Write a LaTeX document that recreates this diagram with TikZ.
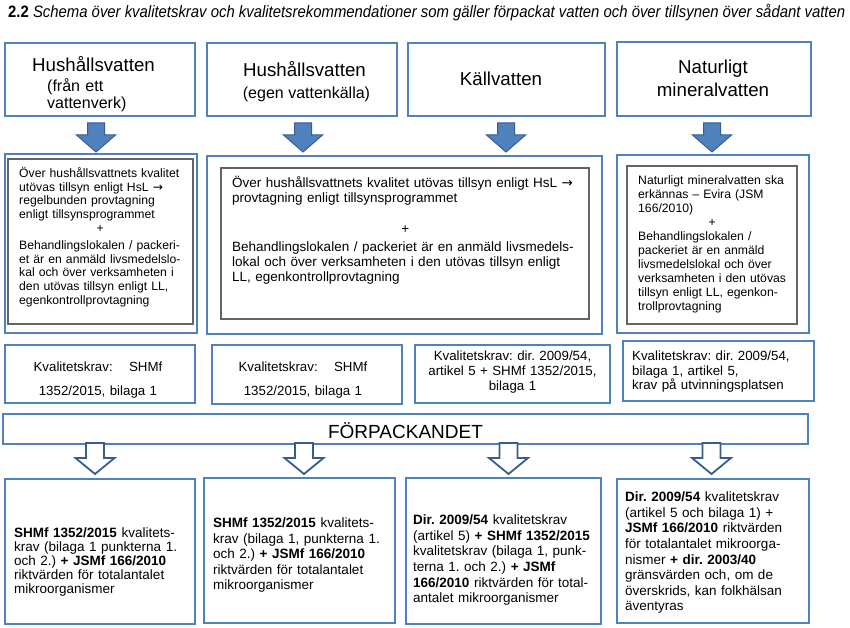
\documentclass[tikz,border=0pt]{standalone}
\usepackage{graphicx}
\usepackage{fontspec}
\setmainfont{Liberation Sans}
\newfontfamily\symfont{DejaVu Sans}
\frenchspacing
\definecolor{boxblue}{RGB}{79,129,189}
\definecolor{arrowedge}{RGB}{56,93,138}
\definecolor{innergray}{RGB}{100,100,100}
\tikzset{
  bluebox/.style={draw=boxblue, line width=1.5pt, rectangle, inner sep=0pt},
  graybox/.style={draw=innergray, line width=1.2pt, rectangle, inner sep=0pt},
  fillarrow/.style={fill=boxblue, draw=arrowedge, line width=1pt, line join=miter},
  hollowarrow/.style={fill=white, draw=arrowedge, line width=1.8pt, line join=miter},
  txt/.style={inner sep=0pt, align=left},
  ctxt/.style={inner sep=0pt, align=center},
  headfont/.style={font=\fontsize{18.7}{22}\selectfont},
  subfont/.style={font=\fontsize{16}{17}\selectfont},
}
\begin{document}
\begin{tikzpicture}[x=1pt,y=-1pt]
\useasboundingbox (0,0) rectangle (850,628);
\fill[white] (0,0) rectangle (850,628);

% title
\node[txt, anchor=base west] (title) at (8,18)
  {\resizebox{837pt}{\height}{\fontsize{16.5}{18}\selectfont\frenchspacing\textbf{2.2} \textit{Schema över kvalitetskrav och kvalitetsrekommendationer som gäller förpackat vatten och över tillsynen över sådant vatten}}};

% top row
\node[bluebox, minimum width=190pt, minimum height=73pt] (t1) at (100,79.5) {};
\node[bluebox, minimum width=190pt, minimum height=73pt] (t2) at (302,79.5) {};
\node[bluebox, minimum width=197pt, minimum height=73pt] (t3) at (506.5,79.5) {};
\node[bluebox, minimum width=194pt, minimum height=74pt] (t4) at (714,79) {};

\node[txt, headfont, anchor=base west] (t1a) at (32,71.5) {Hushållsvatten};
\node[txt, subfont, anchor=base west, text width=120pt] (t1b) at (47,91.5) {(från ett\\vattenverk)};
\node[ctxt, headfont, anchor=base] (t2a) at (304.5,76.5) {Hushållsvatten};
\node[ctxt, subfont, anchor=base] (t2b) at (306.5,98.5) {(egen vattenkälla)};
\node[ctxt, headfont, anchor=base] (t3a) at (501,85.5) {Källvatten};
\node[ctxt, font=\fontsize{18.7}{23}\selectfont, anchor=base, text width=170pt] (t4a) at (713,73.5) {Naturligt\\mineralvatten};

% filled arrows
\foreach \cx in {96,303,506,712}{
  \draw[fillarrow] (\cx-8.5,123) -- (\cx+8.5,123) -- (\cx+8.5,135) -- (\cx+19.5,135)
    -- (\cx,152) -- (\cx-19.5,135) -- (\cx-8.5,135) -- cycle;
}

% middle row
\node[bluebox, minimum width=192pt, minimum height=179pt] (m1o) at (101,243.5) {};
\node[graybox, minimum width=185pt, minimum height=165pt] (m1i) at (100.5,241.5) {};
\node[bluebox, minimum width=395pt, minimum height=178pt] (m2o) at (404.5,245) {};
\node[graybox, minimum width=368pt, minimum height=151pt] (m2i) at (405,243.5) {};
\node[bluebox, minimum width=192pt, minimum height=178pt] (m4o) at (713,244) {};
\node[graybox, minimum width=170pt, minimum height=158pt] (m4i) at (712,245) {};

\node[txt, anchor=base west, text width=175pt, font=\fontsize{12.2}{13.8}\selectfont] (m1t) at (19,177.3)
  {Över hushållsvattnets kvalitet\\
   utövas tillsyn enligt HsL {\symfont →}\\
   regelbunden provtagning\\
   enligt tillsynsprogrammet\\
   \makebox[162pt]{+}\\[3pt]
   Behandlingslokalen / packeri-\\
   et är en anmäld livsmedelslo-\\
   kal och över verksamheten i\\
   den utövas tillsyn enligt LL,\\
   egenkontrollprovtagning};

\node[txt, anchor=base west, text width=360pt, font=\fontsize{13.5}{15}\selectfont] (m2t) at (232,187.7)
  {Över hushållsvattnets kvalitet utövas tillsyn enligt HsL {\symfont →}\\
   provtagning enligt tillsynsprogrammet\\[16pt]
   \makebox[346pt]{+}\\[3pt]
   Behandlingslokalen / packeriet är en anmäld livsmedels-\\
   lokal och över verksamheten i den utövas tillsyn enligt\\
   LL, egenkontrollprovtagning};

\node[txt, anchor=base west, text width=170pt, font=\fontsize{12.2}{14}\selectfont] (m4t) at (638,184.3)
  {Naturligt mineralvatten ska\\
   erkännas – Evira (JSM\\
   166/2010)\\
   \makebox[148pt]{+}\\
   Behandlingslokalen /\\
   packeriet är en anmäld\\
   livsmedelslokal och över\\
   verksamheten i den utövas\\
   tillsyn enligt LL, egenkon-\\
   trollprovtagning};

% quality requirement row
\node[bluebox, minimum width=190pt, minimum height=58pt] (k1) at (100,374) {};
\node[bluebox, minimum width=190pt, minimum height=59pt] (k2) at (307,374.5) {};
\node[bluebox, minimum width=195pt, minimum height=58pt] (k3) at (512.5,374) {};
\node[bluebox, minimum width=191pt, minimum height=60pt] (k4) at (718.5,371) {};

\node[ctxt, anchor=base, text width=185pt, font=\fontsize{13.3}{24}\selectfont] (k1t) at (98,371.7)
  {Kvalitetskrav:\hspace{12pt} SHMf\\1352/2015, bilaga 1};
\node[ctxt, anchor=base, text width=185pt, font=\fontsize{13.3}{24}\selectfont] (k2t) at (303,371.7)
  {Kvalitetskrav:\hspace{12pt} SHMf\\1352/2015, bilaga 1};
\node[ctxt, anchor=base, text width=190pt, font=\fontsize{13.3}{15}\selectfont] (k3t) at (512.5,360.5)
  {Kvalitetskrav: dir. 2009/54,\\artikel 5 + SHMf 1352/2015,\\bilaga 1};
\node[txt, anchor=base west, text width=180pt, font=\fontsize{13.3}{14.7}\selectfont] (k4t) at (632,360.5)
  {Kvalitetskrav: dir. 2009/54,\\bilaga 1, artikel 5,\\krav på utvinningsplatsen};

% packaging bar
\node[bluebox, minimum width=805pt, minimum height=30pt] (bar) at (405.5,429) {};
\node[ctxt, anchor=base, font=\fontsize{19}{20}\selectfont] (bart) at (405.5,438.3) {FÖRPACKANDET};

% hollow arrows
\foreach \cx in {95,304,508.5,711.5}{
  \draw[hollowarrow] (\cx-9,443) -- (\cx+9,443) -- (\cx+9,458) -- (\cx+19.5,458)
    -- (\cx,474) -- (\cx-19.5,458) -- (\cx-9,458) -- cycle;
}

% bottom row
\node[bluebox, minimum width=190pt, minimum height=145pt] (b1) at (100,551.5) {};
\node[bluebox, minimum width=191pt, minimum height=145pt] (b2) at (299.5,550.5) {};
\node[bluebox, minimum width=195pt, minimum height=146pt] (b3) at (503.5,551) {};
\node[bluebox, minimum width=192pt, minimum height=144pt] (b4) at (713,551) {};

\node[txt, anchor=base west, text width=185pt, font=\fontsize{13.5}{14}\selectfont] (b1t) at (14,537.7)
  {\textbf{SHMf 1352/2015} kvalitets-\\
   krav (bilaga 1 punkterna 1.\\
   och 2.) \textbf{+ JSMf 166/2010}\\
   riktvärden för totalantalet\\
   mikroorganismer};
\node[txt, anchor=base west, text width=185pt, font=\fontsize{13.5}{15.6}\selectfont] (b2t) at (213,527.4)
  {\textbf{SHMf 1352/2015} kvalitets-\\
   krav (bilaga 1, punkterna 1.\\
   och 2.) \textbf{+ JSMf 166/2010}\\
   riktvärden för totalantalet\\
   mikroorganismer};
\node[txt, anchor=base west, text width=190pt, font=\fontsize{13.5}{15.6}\selectfont] (b3t) at (413,524.7)
  {\textbf{Dir. 2009/54} kvalitetskrav\\
   (artikel 5) \textbf{+ SHMf 1352/2015}\\
   kvalitetskrav (bilaga 1, punk-\\
   terna 1. och 2.) \textbf{+ JSMf}\\
   \textbf{166/2010} riktvärden för total-\\
   antalet mikroorganismer};
\node[txt, anchor=base west, text width=185pt, font=\fontsize{13.5}{15.6}\selectfont] (b4t) at (625,501.7)
  {\textbf{Dir. 2009/54} kvalitetskrav\\
   (artikel 5 och bilaga 1) +\\
   \textbf{JSMf 166/2010} riktvärden\\
   för totalantalet mikroorga-\\
   nismer \textbf{+ dir. 2003/40}\\
   gränsvärden och, om de\\
   överskrids, kan folkhälsan\\
   äventyras};
\end{tikzpicture}
\end{document}
